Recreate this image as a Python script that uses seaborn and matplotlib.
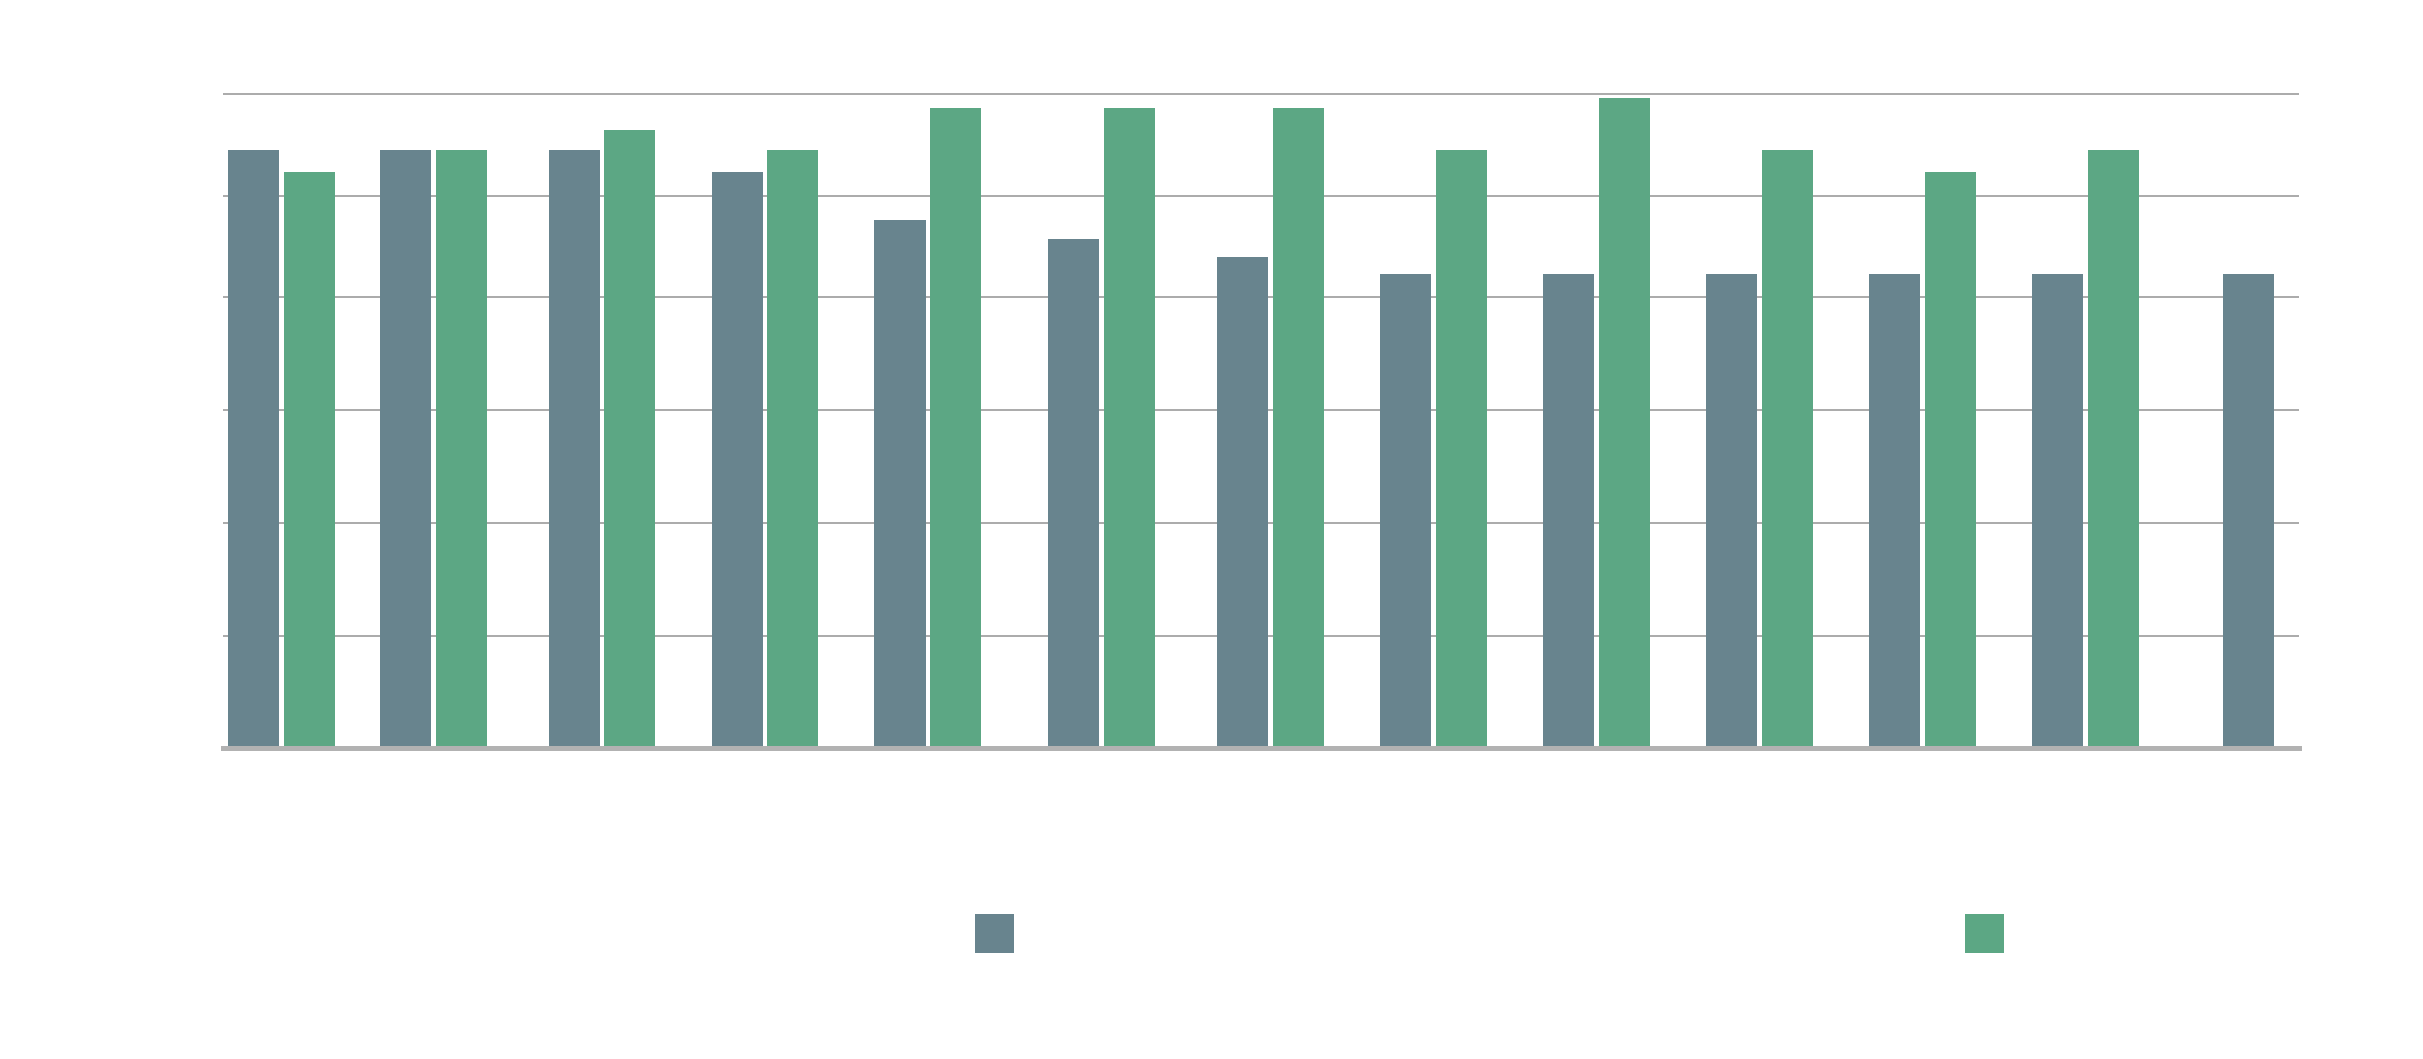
import numpy as np
import pandas as pd
import matplotlib
matplotlib.use("Agg")
import matplotlib.pyplot as plt
import matplotlib.dates as mdates
from matplotlib.patches import Patch
import seaborn as sns

# reading dates (estimated from bar spacing); grey has one extra, latest point
grey_dates = ["2023-01-31", "2023-02-28", "2023-03-31", "2023-04-30", "2023-05-30",
              "2023-07-01", "2023-08-01", "2023-08-31", "2023-09-30", "2023-10-30",
              "2023-11-29", "2023-12-29", "2024-01-28"]
green_dates = grey_dates[:12]

grey_values = [91.4, 91.4, 91.4, 88.1, 80.7, 77.8, 75.1, 72.5, 72.5, 72.5, 72.5, 72.5, 72.5]
green_values = [88.1, 91.4, 94.5, 91.4, 97.8, 97.8, 97.8, 91.4, 99.4, 91.4, 88.1, 91.4]

grid_values = [0, 17.1, 34.4, 51.6, 68.9, 84.4, 100]

GREY = "#68848e"
GREEN = "#5ca784"

sns.set_theme(style="white")

fig = plt.figure(figsize=(24.23, 10.59), dpi=100)
ax = fig.add_axes([0.0919, 0.2939, 0.8568, 0.6298])

grey_x = mdates.date2num(pd.to_datetime(grey_dates))
green_x = mdates.date2num(pd.to_datetime(green_dates))

# side by side where both series have a value, centred when alone
shift = 5.15
bar_days = 9.39
paired = np.isin(grey_x, green_x)
grey_pos = grey_x - np.where(paired, shift, 0)
green_pos = green_x + shift


def draw(pos, vals, color):
    step = np.min(np.diff(np.unique(pos)))
    sns.barplot(x=pos, y=vals, native_scale=True, width=bar_days / step,
                color=color, saturation=1, errorbar=None, linewidth=0, ax=ax)


draw(grey_pos, grey_values, GREY)
draw(green_pos, green_values, GREEN)

ax.set_xlim(grey_x[0] - 10.82, grey_x[0] + 371.3)
ax.set_ylim(0, 102)
ax.set_yticks(grid_values)
ax.set_yticklabels([])
ax.set_xticks([])
ax.tick_params(length=0)
ax.set_xlabel("")
ax.set_ylabel("")
ax.yaxis.grid(True, color="#aaaaaa", linewidth=1.4)
ax.set_axisbelow(True)
sns.despine(ax=ax, left=True)
ax.spines["bottom"].set_color("#b2b2b2")
ax.spines["bottom"].set_linewidth(3.6)

fig.legend(handles=[Patch(facecolor=GREY, edgecolor="none"),
                    Patch(facecolor=GREEN, edgecolor="none")],
           labels=["", ""], ncol=2, loc="center", bbox_to_anchor=(0.6148, 0.1184),
           frameon=False, fontsize=10, handlelength=2.81, handleheight=3.94,
           handletextpad=0, columnspacing=68.5, borderpad=0)

fig.savefig("out.png", dpi=100)
